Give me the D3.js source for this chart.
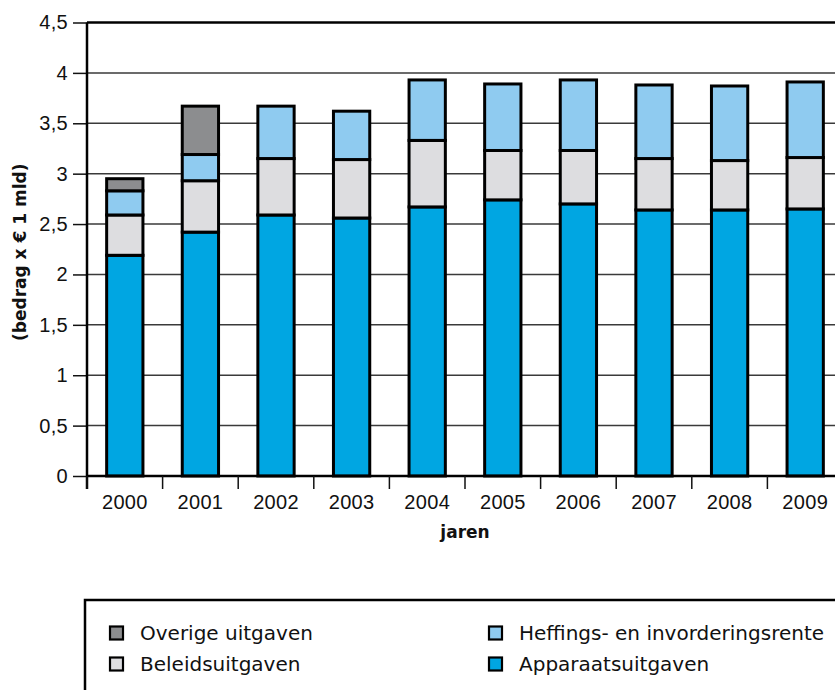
<!DOCTYPE html>
<html><head><meta charset="utf-8">
<script src="https://cdn.jsdelivr.net/npm/d3@7"></script>
<style>
html,body{margin:0;padding:0;background:#fff;}
svg{display:block;}
text{font-family:"DejaVu Sans",sans-serif;fill:#111;}
</style></head>
<body>
<svg id="chart" width="835" height="690"></svg>
<script>
const years = ["2000","2001","2002","2003","2004","2005","2006","2007","2008","2009"];
const apparaatsuitgaven = [2.19, 2.42, 2.59, 2.56, 2.67, 2.74, 2.70, 2.64, 2.64, 2.65];
const beleidsuitgaven   = [0.40, 0.51, 0.56, 0.58, 0.66, 0.49, 0.53, 0.51, 0.49, 0.51];
const heffingsrente     = [0.24, 0.26, 0.52, 0.48, 0.60, 0.66, 0.70, 0.73, 0.74, 0.75];
const overigeUitgaven   = [0.12, 0.48, 0, 0, 0, 0, 0, 0, 0, 0];
const yTicks = [0, 0.5, 1, 1.5, 2, 2.5, 3, 3.5, 4, 4.5];
const seriesNames = ["Apparaatsuitgaven","Beleidsuitgaven","Heffings- en invorderingsrente","Overige uitgaven"];
const seriesColors = ["#00a6e2","#dddde0","#8fcbf0","#8c8d8f"];

const svg = d3.select("#chart");
const pLeft = 87, pRight = 843, pTop = 22.5, pBottom = 476;
const tickFont = '"Liberation Sans", Arial, sans-serif';

const rows = years.map((yr,i)=>({
  year:yr,
  "Apparaatsuitgaven":apparaatsuitgaven[i],
  "Beleidsuitgaven":beleidsuitgaven[i],
  "Heffings- en invorderingsrente":heffingsrente[i],
  "Overige uitgaven":overigeUitgaven[i]
}));
const stack = d3.stack().keys(seriesNames)(rows);

const x = d3.scaleBand().domain(years).range([pLeft,pRight]).paddingInner(0.52).paddingOuter(0.26);
const y = d3.scaleLinear().domain([0,4.5]).range([pBottom,pTop]);
const color = d3.scaleOrdinal().domain(seriesNames).range(seriesColors);

// gridlines
svg.append("g").selectAll("line").data(yTicks.filter(t=>t>0 && t<4.5)).join("line")
  .attr("x1",pLeft).attr("x2",pRight).attr("y1",d=>y(d)).attr("y2",d=>y(d))
  .attr("stroke","#3a3a3a").attr("stroke-width",1.5);

// y axis
const yAxis = d3.axisLeft(y).tickValues(yTicks).tickSize(14).tickPadding(5)
  .tickFormat(d=>String(d).replace(".",","));
const gy = svg.append("g").attr("transform",`translate(${pLeft},0)`).call(yAxis);
gy.select(".domain").remove();
gy.selectAll(".tick line").attr("stroke","#111").attr("stroke-width",1.5);
gy.selectAll(".tick text").style("font-size","20px").attr("fill","#111")
  .style("font-family",tickFont).style("letter-spacing","0.3px");

// bars
svg.append("g").selectAll("g").data(stack).join("g")
  .attr("fill",d=>color(d.key))
  .selectAll("rect").data(d=>d.filter(s=>s[1]-s[0]>0)).join("rect")
  .attr("x",d=>x(d.data.year)).attr("width",x.bandwidth())
  .attr("y",d=>y(d[1])).attr("height",d=>y(d[0])-y(d[1]))
  .attr("stroke","#000").attr("stroke-width",3);

// frame
svg.append("line").attr("x1",pLeft).attr("x2",pLeft).attr("y1",pTop).attr("y2",pBottom+13)
  .attr("stroke","#000").attr("stroke-width",2.5);
svg.append("line").attr("x1",pLeft).attr("x2",pRight).attr("y1",pTop).attr("y2",pTop)
  .attr("stroke","#000").attr("stroke-width",2.5);
svg.append("line").attr("x1",pRight).attr("x2",pRight).attr("y1",pTop).attr("y2",pBottom)
  .attr("stroke","#000").attr("stroke-width",2.5);

// x axis
const xAxis = d3.axisBottom(x).tickSize(0).tickPadding(19);
const gx = svg.append("g").attr("transform",`translate(0,${pBottom})`).call(xAxis);
gx.select(".domain").remove();
gx.selectAll(".tick text").style("font-size","20px").attr("fill","#111")
  .style("font-family",tickFont).style("letter-spacing","0.3px");
svg.append("line").attr("x1",pLeft).attr("x2",pRight).attr("y1",pBottom).attr("y2",pBottom)
  .attr("stroke","#000").attr("stroke-width",2.5);
const step = x.step();
const boundaries = years.map(yr=>x(yr)+x.bandwidth()/2-step/2).concat([x(years[years.length-1])+x.bandwidth()/2+step/2]);
svg.append("g").selectAll("line").data(boundaries).join("line")
  .attr("x1",d=>d).attr("x2",d=>d).attr("y1",pBottom).attr("y2",pBottom+13)
  .attr("stroke","#111").attr("stroke-width",1.5);

// axis titles
svg.append("text").attr("x",(pLeft+pRight)/2).attr("y",538).attr("text-anchor","middle")
  .style("font-size","17px").style("font-weight","bold").text("jaren");
svg.append("text").attr("transform",`translate(21,${(pTop+pBottom)/2+3}) rotate(-90)`)
  .attr("text-anchor","middle").attr("dominant-baseline","middle")
  .style("font-size","17px").style("font-weight","bold").text("(bedrag x € 1 mld)");

// legend
svg.append("rect").attr("x",85).attr("y",600).attr("width",780).attr("height",120)
  .attr("fill","none").attr("stroke","#000").attr("stroke-width",2.5);
const legendItems = [
  {name:"Overige uitgaven", col:0, row:0},
  {name:"Beleidsuitgaven", col:0, row:1},
  {name:"Heffings- en invorderingsrente", col:1, row:0},
  {name:"Apparaatsuitgaven", col:1, row:1}
];
const colX = [110, 489], rowY = [633, 664];
const lg = svg.append("g").selectAll("g").data(legendItems).join("g")
  .attr("transform",d=>`translate(${colX[d.col]},${rowY[d.row]})`);
lg.append("rect").attr("x",0).attr("y",-6.5).attr("width",13).attr("height",13)
  .attr("fill",d=>color(d.name)).attr("stroke","#000").attr("stroke-width",2.2);
lg.append("text").attr("x",30).attr("y",0).attr("dominant-baseline","central")
  .style("font-size","20px").text(d=>d.name);
</script>
</body></html>
